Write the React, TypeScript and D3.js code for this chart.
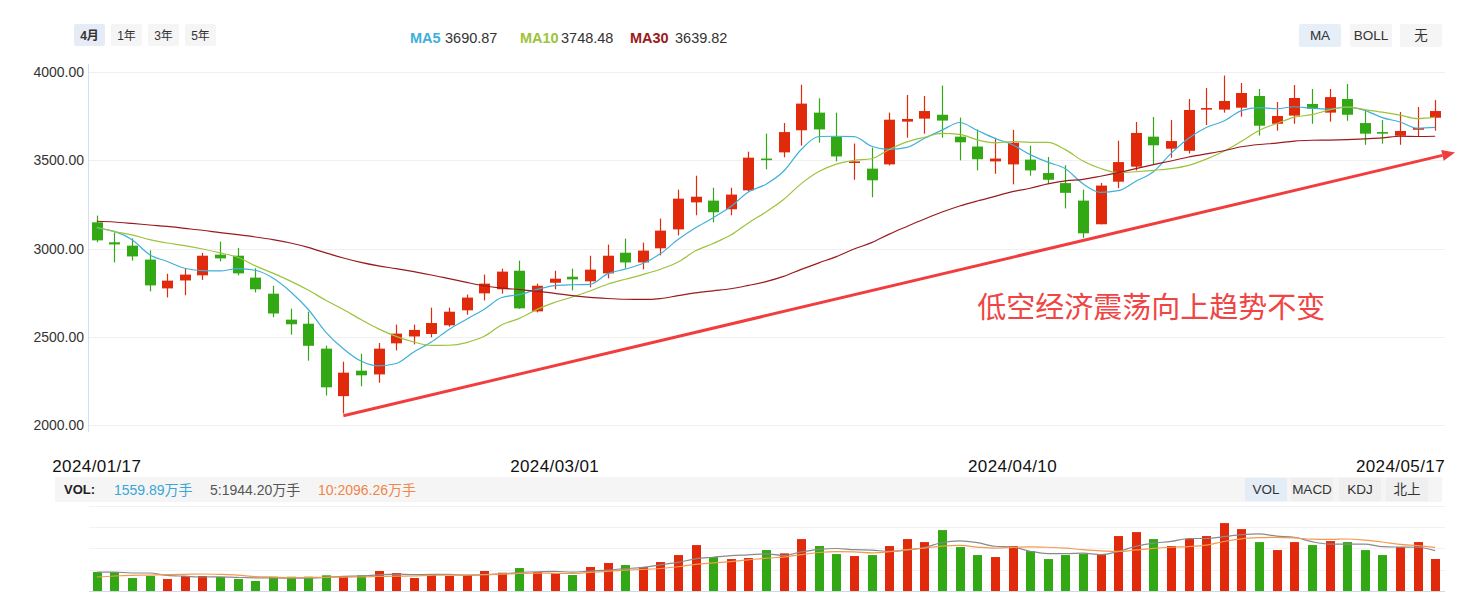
import React from "react";
import * as d3 from "d3";

// ---------- data ----------
const tickDates = ["2024/01/17", "2024/03/01", "2024/04/10", "2024/05/17"];
const tickDateIndex = [0, 26, 52, 76];

const open = [3149, 3036, 3017, 2938, 2775, 2820, 2849, 2966, 2960, 2836, 2745, 2598, 2575, 2434, 2165, 2309, 2288, 2464, 2503, 2517, 2566, 2651, 2747, 2770, 2875, 2645, 2807, 2841, 2815, 2860, 2977, 2922, 3002, 3109, 3262, 3272, 3223, 3330, 3510, 3545, 3670, 3770, 3634, 3489, 3453, 3477, 3719, 3736, 3758, 3634, 3578, 3494, 3477, 3504, 3428, 3371, 3272, 3138, 3379, 3464, 3634, 3566, 3554, 3787, 3787, 3798, 3864, 3707, 3753, 3819, 3770, 3847, 3711, 3660, 3639, 3673, 3741];
const high = [3187, 3092, 3058, 2990, 2858, 2887, 2976, 3040, 3004, 2889, 2790, 2660, 2643, 2451, 2360, 2405, 2466, 2570, 2570, 2666, 2666, 2740, 2853, 2887, 2932, 2802, 2875, 2887, 2960, 3023, 3057, 3034, 3170, 3334, 3413, 3345, 3345, 3549, 3651, 3711, 3928, 3851, 3770, 3595, 3572, 3770, 3870, 3864, 3923, 3742, 3675, 3628, 3672, 3583, 3519, 3472, 3334, 3372, 3611, 3717, 3745, 3728, 3847, 3909, 3980, 3938, 3904, 3830, 3926, 3904, 3904, 3932, 3781, 3728, 3773, 3802, 3841];
const low = [3036, 2922, 2932, 2758, 2724, 2736, 2823, 2928, 2849, 2752, 2612, 2513, 2366, 2169, 2067, 2221, 2241, 2424, 2458, 2498, 2558, 2626, 2707, 2745, 2659, 2639, 2770, 2764, 2781, 2832, 2888, 2883, 2962, 3075, 3189, 3149, 3189, 3324, 3449, 3517, 3583, 3600, 3494, 3390, 3291, 3471, 3628, 3651, 3628, 3500, 3443, 3424, 3364, 3413, 3368, 3228, 3061, 3138, 3342, 3443, 3477, 3515, 3539, 3700, 3770, 3747, 3640, 3668, 3707, 3707, 3719, 3724, 3588, 3594, 3588, 3634, 3668];
const close = [3047, 3024, 2956, 2792, 2819, 2853, 2960, 2945, 2860, 2770, 2633, 2572, 2450, 2215, 2298, 2283, 2434, 2519, 2540, 2579, 2643, 2723, 2802, 2870, 2662, 2790, 2830, 2826, 2881, 2960, 2922, 2989, 3102, 3283, 3294, 3206, 3306, 3515, 3504, 3660, 3821, 3675, 3522, 3494, 3387, 3730, 3734, 3779, 3725, 3602, 3506, 3510, 3600, 3443, 3390, 3316, 3087, 3357, 3490, 3655, 3585, 3609, 3785, 3796, 3836, 3881, 3696, 3751, 3853, 3792, 3858, 3758, 3651, 3651, 3666, 3683, 3779];

// volume, 万手
const volume = [925, 925, 633, 731, 584, 731, 731, 682, 584, 487, 696, 696, 696, 765, 731, 765, 974, 877, 633, 828, 731, 779, 974, 891, 1120, 925, 877, 779, 1169, 1364, 1266, 1169, 1412, 1753, 2240, 1656, 1558, 1607, 1997, 1836, 2532, 2192, 1802, 1705, 1753, 2192, 2532, 2386, 2971, 2143, 1753, 1656, 2192, 1948, 1558, 1753, 1802, 1802, 2679, 2873, 2532, 2192, 2532, 2679, 3312, 3019, 2386, 1997, 2386, 2240, 2435, 2386, 1997, 1753, 2143, 2386, 1560];

// moving-average values before the window is full (they use days before the range)
const ma5Lead = [3117, 3098, 3051, 2966];
const ma10Lead = [3121, 3096, 3078, 3051, 3032, 3017, 2998, 2976, 2951];
const ma30Lead = [3155, 3151, 3143, 3134, 3126, 3115, 3104, 3091, 3079, 3066, 3051, 3032, 3007, 2976, 2947, 2922, 2902, 2887, 2870, 2851, 2830, 2809, 2790, 2777, 2768, 2758, 2747, 2734, 2724];
const volMa5Lead = [925, 925, 877, 877];
const volMa10Lead = [682, 731, 763, 779, 795, 812, 828, 812, 779];

const yTicks = [2000, 2500, 3000, 3500, 4000];
const maNames = ["MA5", "MA10", "MA30"];
const maValues = ["3690.87", "3748.48", "3639.82"];
const periods = ["4月", "1年", "3年", "5年"];
const indicatorTabs = ["MA", "BOLL", "无"];
const volTabs = ["VOL", "MACD", "KDJ", "北上"];
const volLegend = ["1559.89万手", "5:1944.20万手", "10:2096.26万手"];
const annotationText = "低空经济震荡向上趋势不变";
const arrowFrom = { i: 14, v: 2054 };
const arrowTo = { i: 77.13, v: 3545 };
const annotationAt = { i: 50, v: 2610 };

// ---------- helpers ----------
function movingAvg(series: number[], n: number, lead: number[]) {
  return series.map((_, i) => {
    if (i < n - 1) return lead[i];
    return d3.mean(series.slice(i - n + 1, i + 1)) as number;
  });
}

const FONT = "'Liberation Sans', Arial, 'Noto Sans CJK SC', sans-serif";
const RED = "#e1290c";
const GREEN = "#32a814";
const MA_COLORS = ["#3fb0da", "#9dc33c", "#991b20"];

export default function App() {
  const W = 1457;
  const H = 594;
  const n = close.length;
  const x = d3.scaleLinear().domain([0, n - 1]).range([96.8, 1435.2]);
  const y = d3.scaleLinear().domain([2000, 4000]).range([425.3, 72]);
  const vy = d3.scaleLinear().domain([0, 4160]).range([591, 505.7]);
  const bodyW = 11;
  const volW = 9;

  const ma5 = movingAvg(close, 5, ma5Lead);
  const ma10 = movingAvg(close, 10, ma10Lead);
  const ma30 = movingAvg(close, 30, ma30Lead);
  const vma5 = movingAvg(volume, 5, volMa5Lead);
  const vma10 = movingAvg(volume, 10, volMa10Lead);

  const priceLine = d3
    .line<number>()
    .x((_, i) => x(i))
    .y((d) => y(d))
    .curve(d3.curveMonotoneX);
  const volLine = d3
    .line<number>()
    .x((_, i) => x(i))
    .y((d) => vy(d))
    .curve(d3.curveMonotoneX);

  // arrow geometry
  const ax0 = x(arrowFrom.i), ay0 = y(arrowFrom.v);
  const ax1 = x(arrowTo.i), ay1 = y(arrowTo.v);
  const ang = Math.atan2(ay1 - ay0, ax1 - ax0);
  const headLen = 13, headHalf = 5.5;
  const bx = ax1 - headLen * Math.cos(ang), by = ay1 - headLen * Math.sin(ang);
  const head = [
    [ax1, ay1],
    [bx + headHalf * Math.sin(ang), by - headHalf * Math.cos(ang)],
    [bx - headHalf * Math.sin(ang), by + headHalf * Math.cos(ang)],
  ]
    .map((p) => p.join(","))
    .join(" ");

  const volGrid = [505.7, 527, 548.3, 569.7];
  const periodX = [74, 111, 148, 185];
  const indX = [1299, 1350, 1400];
  const maLabelX = [410, 520, 630];
  const maValueX = [445, 561, 675];
  const volTabX = [1245, 1291, 1339, 1386];
  const volLegendX = [114, 210, 318];
  const volLegendColors = ["#3aa6d6", "#555555", "#f0864a"];

  return (
    <svg
      width={W}
      height={H}
      style={{ position: "absolute", left: 0, top: 0, background: "#fff" }}
      fontFamily={FONT}
    >
      <rect x={0} y={0} width={W} height={H} fill="#ffffff" />

      {/* top period buttons */}
      {periods.map((p, i) => (
        <g key={p}>
          <rect x={periodX[i]} y={24} width={31} height={22} rx={2} fill={i === 0 ? "#e6ecf6" : "#f5f5f5"} />
          <text
            x={periodX[i] + 15.5}
            y={35.5}
            textAnchor="middle"
            dominantBaseline="central"
            fontSize={12}
            fontWeight={i === 0 ? 700 : 400}
            fill="#333"
          >
            {p}
          </text>
        </g>
      ))}

      {/* MA legend */}
      {maNames.map((m, i) => (
        <g key={m}>
          <text x={maLabelX[i]} y={37.5} dominantBaseline="central" fontSize={14.5} fontWeight={700} fill={MA_COLORS[i]}>
            {m}
          </text>
          <text x={maValueX[i]} y={37.5} dominantBaseline="central" fontSize={14.5} fill="#333">
            {maValues[i]}
          </text>
        </g>
      ))}

      {/* indicator tabs */}
      {indicatorTabs.map((t, i) => (
        <g key={t}>
          <rect x={indX[i]} y={24} width={42} height={23} rx={2} fill={i === 0 ? "#e6eef8" : "#f5f5f5"} />
          <text x={indX[i] + 21} y={35.5} textAnchor="middle" dominantBaseline="central" fontSize={13.5} fill="#333">
            {t}
          </text>
        </g>
      ))}

      {/* grid lines */}
      {yTicks.map((t) => (
        <line key={t} x1={89} x2={1445} y1={Math.round(y(t)) + 0.5} y2={Math.round(y(t)) + 0.5} stroke="#f0f0f0" />
      ))}
      <line x1={88.5} x2={88.5} y1={64} y2={432} stroke="#d3def0" />
      {yTicks.map((t) => (
        <text key={t} x={84} y={y(t)} textAnchor="end" dominantBaseline="central" fontSize={14} fill="#333">
          {d3.format(".2f")(t)}
        </text>
      ))}

      {/* candles */}
      {close.map((c, i) => {
        const o = open[i];
        const up = c >= o;
        const col = up ? RED : GREEN;
        const cx = Math.round(x(i));
        const top = y(Math.max(o, c));
        const bot = y(Math.min(o, c));
        return (
          <g key={i}>
            <line x1={cx + 0.5} x2={cx + 0.5} y1={y(high[i])} y2={y(low[i])} stroke={col} strokeWidth={1.2} />
            <rect x={cx - bodyW / 2 + 0.5} y={top} width={bodyW} height={Math.max(1.6, bot - top)} fill={col} />
          </g>
        );
      })}

      {/* MA lines */}
      {[ma5, ma10, ma30].map((s, k) => (
        <path key={k} d={priceLine(s) as string} fill="none" stroke={MA_COLORS[k]} strokeWidth={1.2} />
      ))}

      {/* annotation arrow and text */}
      <line x1={ax0} y1={ay0} x2={bx} y2={by} stroke="#f13d3d" strokeWidth={3} strokeLinecap="butt" />
      <polygon points={head} fill="#f13d3d" />
      <text x={x(annotationAt.i)} y={y(annotationAt.v)} fontSize={29} fill="#f04545" fontFamily="'Noto Sans CJK SC', sans-serif">
        {annotationText}
      </text>

      {/* date axis labels */}
      {tickDates.map((d, k) => {
        const i = tickDateIndex[k];
        const last = k === tickDates.length - 1;
        return (
          <text
            key={d}
            x={last ? 1445 : x(i)}
            y={472}
            textAnchor={last ? "end" : "middle"}
            fontSize={17}
            letterSpacing={0.4}
            fill="#111"
          >
            {d}
          </text>
        );
      })}

      {/* volume legend row */}
      <rect x={55} y={477} width={1387} height={25} fill="#f5f5f5" />
      <text x={64} y={489.5} dominantBaseline="central" fontSize={13} fontWeight={700} fill="#222">
        VOL:
      </text>
      {volLegend.map((t, i) => (
        <text key={t} x={volLegendX[i]} y={489.5} dominantBaseline="central" fontSize={14} fill={volLegendColors[i]}>
          {t}
        </text>
      ))}
      {volTabs.map((t, i) => (
        <g key={t}>
          <rect x={volTabX[i]} y={478} width={42} height={23} fill={i === 0 ? "#e4ecf7" : "#efefef"} />
          <text x={volTabX[i] + 21} y={489.5} textAnchor="middle" dominantBaseline="central" fontSize={13.5} fill="#333">
            {t}
          </text>
        </g>
      ))}

      {/* volume grid */}
      {volGrid.map((g) => (
        <line key={g} x1={89} x2={1445} y1={Math.round(g) + 0.5} y2={Math.round(g) + 0.5} stroke="#f0f2f5" />
      ))}
      <line x1={89} x2={1445} y1={591.5} y2={591.5} stroke="#cdd8ea" />

      {/* volume bars */}
      {volume.map((v, i) => {
        const up = close[i] >= open[i];
        const cx = Math.round(x(i));
        return (
          <rect key={i} x={cx - volW / 2 + 0.5} y={vy(v)} width={volW} height={vy(0) - vy(v)} fill={up ? RED : GREEN} />
        );
      })}
      <path d={volLine(vma5) as string} fill="none" stroke="#8a8a8a" strokeWidth={1.2} />
      <path d={volLine(vma10) as string} fill="none" stroke="#f39a50" strokeWidth={1.2} />
    </svg>
  );
}
